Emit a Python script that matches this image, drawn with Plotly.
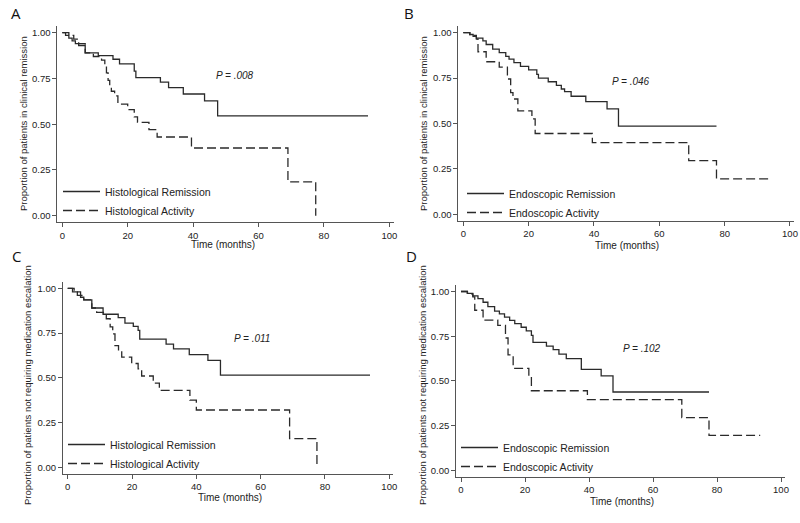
import plotly.graph_objects as go

# ---------------- data ----------------
x_ticks = [0, 20, 40, 60, 80, 100]
y_ticks = [0.0, 0.25, 0.5, 0.75, 1.0]

# Panel A: clinical remission by histology
A_rem_t = [0, 1, 2, 3, 4, 5, 7, 11, 15.5, 17.5, 22, 22.5, 30, 32.5, 37, 43.5, 47.5, 93.5]
A_rem_s = [1.0, 0.985, 0.97, 0.955, 0.94, 0.93, 0.89, 0.875, 0.855, 0.83, 0.79, 0.755, 0.73, 0.70, 0.665, 0.628, 0.545, 0.545]
A_act_t = [0, 2, 3.5, 5, 7, 9.5, 12, 13, 13.5, 14, 14.5, 15, 16, 17, 20, 22, 23, 26.5, 29, 39.5, 69, 77.5]
A_act_s = [1.0, 0.985, 0.965, 0.94, 0.89, 0.87, 0.85, 0.82, 0.78, 0.74, 0.70, 0.68, 0.655, 0.61, 0.58, 0.54, 0.51, 0.47, 0.43, 0.37, 0.185, 0.0]

# Panel B: clinical remission by endoscopy
B_rem_t = [0, 2, 3, 4, 6, 7, 9, 11, 13, 14, 15.5, 17.5, 20, 22.5, 23, 26, 28.5, 30, 31, 33, 37.5, 44, 47.5, 77.5]
B_rem_s = [1.0, 0.99, 0.98, 0.97, 0.955, 0.935, 0.91, 0.89, 0.87, 0.855, 0.835, 0.815, 0.795, 0.77, 0.75, 0.73, 0.71, 0.69, 0.675, 0.65, 0.62, 0.58, 0.485, 0.485]
B_act_t = [0, 2, 4, 4.5, 7, 11, 13.5, 14.5, 15.2, 16.7, 21, 22, 39.5, 69, 77.5, 93.5]
B_act_s = [1.0, 0.985, 0.965, 0.895, 0.84, 0.81, 0.745, 0.67, 0.635, 0.57, 0.525, 0.445, 0.395, 0.295, 0.195, 0.195]

# Panel C: no medication escalation by histology
C_rem_t = [0, 1.5, 3, 4, 5, 7.5, 11, 15.7, 17.8, 20.4, 21.9, 22.4, 30.6, 32.9, 37.8, 43.6, 47.5, 94]
C_rem_s = [1.0, 0.98, 0.96, 0.95, 0.935, 0.89, 0.855, 0.836, 0.806, 0.787, 0.765, 0.716, 0.688, 0.662, 0.63, 0.597, 0.515, 0.515]
C_act_t = [0, 2, 4, 5, 7.5, 9, 11.1, 12, 13.2, 14, 14.7, 15.8, 16.8, 19.9, 21.9, 23, 26.6, 28.5, 38, 40, 69, 77.5]
C_act_s = [1.0, 0.98, 0.96, 0.935, 0.89, 0.865, 0.85, 0.83, 0.785, 0.745, 0.68, 0.652, 0.615, 0.58, 0.55, 0.51, 0.47, 0.43, 0.375, 0.32, 0.16, 0.0]

# Panel D: no medication escalation by endoscopy
D_rem_t = [0, 2, 3.7, 5.3, 6.9, 8.4, 10.5, 12, 13.6, 15.2, 16.8, 18.8, 20.4, 22, 22.5, 26.7, 28.8, 30.6, 32.9, 37.6, 43.8, 47.5, 77.5]
D_rem_s = [1.0, 0.99, 0.975, 0.96, 0.94, 0.915, 0.89, 0.875, 0.857, 0.838, 0.82, 0.80, 0.78, 0.755, 0.715, 0.695, 0.675, 0.65, 0.625, 0.565, 0.528, 0.438, 0.438]
D_act_t = [0, 2, 3.7, 4.3, 6.9, 11.5, 13.9, 14.7, 16.3, 21.2, 22, 39.5, 69, 77.5, 93.5]
D_act_s = [1.0, 0.985, 0.97, 0.895, 0.84, 0.81, 0.74, 0.645, 0.57, 0.525, 0.445, 0.395, 0.295, 0.195, 0.195]

panel_letters = ["A", "B", "C", "D"]
p_values = ["P = .008", "P = .046", "P = .011", "P = .102"]
y_titles = ["Proportion of patients in clinical remission",
            "Proportion of patients in clinical remission",
            "Proportion of patients not requiring medication escalation",
            "Proportion of patients not requiring medication escalation"]
x_title = "Time (months)"
legend_names = [("Histological Remission", "Histological Activity"),
                ("Endoscopic Remission", "Endoscopic Activity"),
                ("Histological Remission", "Histological Activity"),
                ("Endoscopic Remission", "Endoscopic Activity")]
series = [((A_rem_t, A_rem_s), (A_act_t, A_act_s)),
          ((B_rem_t, B_rem_s), (B_act_t, B_act_s)),
          ((C_rem_t, C_rem_s), (C_act_t, C_act_s)),
          ((D_rem_t, D_rem_s), (D_act_t, D_act_s))]

# ---------------- layout geometry (pixels) ----------------
W, H = 800, 523
XR = [-1.5, 101.3]
YR = [-0.035, 1.035]
# pixel position of x=0, x=100, y=1, y=0 in each panel
calib = [dict(x0=62.3, x100=389.3, y1=32.7, y0=215.7),
         dict(x0=463.3, x100=790.0, y1=32.7, y0=214.3),
         dict(x0=67.7, x100=389.3, y1=288.3, y0=467.3),
         dict(x0=461.0, x100=781.0, y1=291.5, y0=470.3)]
letter_pos = [(16, 13), (409, 13), (16, 256), (411, 256)]
p_pos = [(235, 75), (631, 82), (252, 338), (642, 348)]
xt_pos = [(223, 244), (627, 245), (230, 497), (622, 501)]
yt_pos = [(23, 124), (423, 124), (27, 385), (422, 385)]
leg_pos = [(58, 177), (462, 179), (63, 430), (456, 433)]

INK = "#2a2a2a"
AX = "#555555"
FONT = "Liberation Sans, Arial, sans-serif"

fig = go.Figure()
annotations = []
layout = {}

for i in range(4):
    c = calib[i]
    sx = (c["x100"] - c["x0"]) / 100.0
    sy = (c["y0"] - c["y1"])
    left = c["x0"] + XR[0] * sx
    right = c["x0"] + XR[1] * sx
    bottom = c["y0"] - YR[0] * sy
    top = c["y0"] - YR[1] * sy
    sfx = "" if i == 0 else str(i + 1)
    layout["xaxis" + sfx] = dict(
        domain=[left / W, right / W], range=XR, anchor="y" + sfx, automargin=False,
        tickvals=x_ticks, ticks="outside", ticklen=4, tickwidth=1, tickcolor=AX,
        showline=True, linecolor=AX, linewidth=1, showgrid=False, zeroline=False,
        tickfont=dict(family=FONT, size=9.5, color="#222"))
    layout["yaxis" + sfx] = dict(
        domain=[1 - bottom / H, 1 - top / H], range=YR, anchor="x" + sfx, automargin=False,
        tickvals=y_ticks, tickformat=".2f", ticks="outside", ticklen=4, tickwidth=1,
        tickcolor=AX, showline=True, linecolor=AX, linewidth=1, showgrid=False,
        zeroline=False, tickfont=dict(family=FONT, size=9.5, color="#222"))
    leg = "legend" if i == 0 else "legend" + str(i + 1)
    layout[leg] = dict(x=leg_pos[i][0] / W, y=1 - leg_pos[i][1] / H,
                       xanchor="left", yanchor="top", bgcolor="rgba(0,0,0,0)",
                       font=dict(family=FONT, size=10.5, color="#222"),
                       tracegroupgap=0, itemwidth=37)
    (rt, rs), (at, as_) = series[i]
    fig.add_trace(go.Scatter(x=rt, y=rs, mode="lines", line=dict(shape="hv", color=INK, width=1.3),
                             name=legend_names[i][0], xaxis="x" + sfx, yaxis="y" + sfx, legend=leg))
    fig.add_trace(go.Scatter(x=at, y=as_, mode="lines",
                             line=dict(shape="hv", color=INK, width=1.3, dash="9px,4px"),
                             name=legend_names[i][1], xaxis="x" + sfx, yaxis="y" + sfx, legend=leg))
    common = dict(xref="paper", yref="paper", showarrow=False, xanchor="center", yanchor="middle")
    annotations.append(dict(text=panel_letters[i], x=letter_pos[i][0] / W, y=1 - letter_pos[i][1] / H,
                            font=dict(family="Open Sans, sans-serif", size=15, color="#111"), **common))
    annotations.append(dict(text="<i>" + p_values[i] + "</i>", x=p_pos[i][0] / W, y=1 - p_pos[i][1] / H,
                            font=dict(family=FONT, size=10, color="#222"), **common))
    annotations.append(dict(text=x_title, x=xt_pos[i][0] / W, y=1 - xt_pos[i][1] / H,
                            font=dict(family=FONT, size=10, color="#222"), **common))
    annotations.append(dict(text=y_titles[i], x=yt_pos[i][0] / W, y=1 - yt_pos[i][1] / H,
                            textangle=-90, font=dict(family=FONT, size=9.5, color="#222"), **common))

fig.update_layout(template="none", width=W, height=H, margin=dict(l=0, r=0, t=0, b=0, pad=0),
                  paper_bgcolor="white", plot_bgcolor="white", showlegend=True,
                  annotations=annotations, **layout)
fig.write_html("out.html", config={"displayModeBar": False},
               post_script="document.body.style.margin='0';document.body.style.overflow='hidden';")
